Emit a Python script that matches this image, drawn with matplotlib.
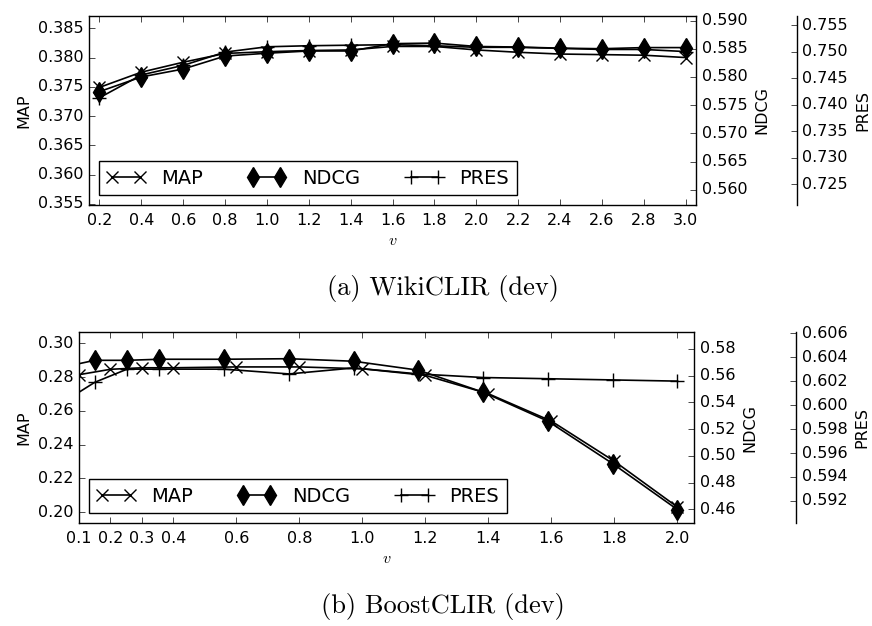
import matplotlib
matplotlib.use('Agg')
import matplotlib.pyplot as plt
from matplotlib.ticker import FormatStrFormatter

plt.style.use('classic')
plt.rcParams.update({
    'figure.facecolor': 'white',
    'savefig.facecolor': 'white',
    'font.family': ['DejaVu Sans'],
    'mathtext.fontset': 'cm',
    'lines.linewidth': 1.2,
})

# ---------------- data ----------------
wiki_v = [0.2, 0.4, 0.6, 0.8, 1.0, 1.2, 1.4, 1.6, 1.8, 2.0, 2.2, 2.4, 2.6, 2.8, 3.0]
wiki_map = [0.3749, 0.3775, 0.3792, 0.3807, 0.3810, 0.3812, 0.3813, 0.3819, 0.3819,
            0.3813, 0.3809, 0.3806, 0.3805, 0.3804, 0.3800]
wiki_ndcg = [0.5774, 0.5800, 0.5814, 0.5837, 0.5842, 0.5846, 0.5846, 0.5859, 0.5860,
             0.5854, 0.5853, 0.5851, 0.5850, 0.5852, 0.5852]
wiki_pres = [0.7413, 0.7456, 0.7474, 0.7499, 0.7509, 0.7511, 0.7512, 0.7513, 0.7511,
             0.7508, 0.7508, 0.7506, 0.7504, 0.7504, 0.7500]

boost_v = [0.1, 0.2, 0.3, 0.4, 0.6, 0.8, 1.0, 1.2, 1.4, 1.6, 1.8, 2.0]
boost_map = [0.2814, 0.2846, 0.2855, 0.2855, 0.2860, 0.2860, 0.2849, 0.2810,
             0.2701, 0.2539, 0.2301, 0.2030]
boost_ndcg = [0.5663, 0.5715, 0.5715, 0.5723, 0.5723, 0.5727, 0.5708, 0.5641,
              0.5476, 0.5259, 0.4941, 0.4597]
boost_pres = [0.6002, 0.6019, 0.6030, 0.6030, 0.6030, 0.6026, 0.6031, 0.6026,
              0.6023, 0.6022, 0.6021, 0.6020]

wiki_xticks = wiki_v
boost_xticks = boost_v
wiki_map_ticks = [0.355, 0.360, 0.365, 0.370, 0.375, 0.380, 0.385]
wiki_ndcg_ticks = [0.560, 0.565, 0.570, 0.575, 0.580, 0.585, 0.590]
wiki_pres_ticks = [0.725, 0.730, 0.735, 0.740, 0.745, 0.750, 0.755]
boost_map_ticks = [0.20, 0.22, 0.24, 0.26, 0.28, 0.30]
boost_ndcg_ticks = [0.46, 0.48, 0.50, 0.52, 0.54, 0.56, 0.58]
boost_pres_ticks = [0.592, 0.594, 0.596, 0.598, 0.600, 0.602, 0.604, 0.606]

series_names = ['MAP', 'NDCG', 'PRES']
captions = ['(a) WikiCLIR (dev)', '(b) BoostCLIR (dev)']

W, H = 872, 626
fig = plt.figure(figsize=(W / 100, H / 100), dpi=100)

FS = 11.5


def rect_px(l, t, r, b):
    return [l / W, 1 - b / H, (r - l) / W, (b - t) / H]


def panel(rect, v, m, n, p, xticks, xlim_host, xlim_twin,
          mlim, nlim, plim, mt, nt, pt, mfmt, pfmt, caption, cap_y, offset):
    ax = fig.add_axes(rect)
    ax2 = fig.add_axes(rect)
    ax3 = fig.add_axes(rect)
    for a in (ax2, ax3):
        a.patch.set_visible(False)
        for s in a.spines.values():
            s.set_visible(False)
        a.xaxis.set_visible(False)
        a.yaxis.set_ticks_position('right')
        a.yaxis.set_label_position('right')
        a.set_xlim(*xlim_twin)
    ax3.spines['right'].set_visible(True)
    ax3.spines['right'].set_position(('axes', offset))

    l1, = ax.plot(v, m, color='black', marker='x', ms=9, mew=1.0, label=series_names[0])
    l2, = ax2.plot(v, n, color='black', marker='d', ms=10.5, mew=1.0, label=series_names[1])
    l3, = ax3.plot(v, p, color='black', marker='+', ms=10, mew=1.0, label=series_names[2])

    ax.set_xlim(*xlim_host)
    ax.set_xticks(xticks)
    ax.xaxis.set_major_formatter(FormatStrFormatter('%.1f'))
    ax.set_ylim(*mlim)
    ax.set_yticks(mt)
    ax.yaxis.set_major_formatter(FormatStrFormatter(mfmt))
    ax.tick_params(axis='y', right=False, direction='in', labelsize=FS)
    ax.tick_params(axis='x', top=True, bottom=True, direction='in', labelsize=FS, pad=6)
    ax.set_ylabel('MAP', fontsize=FS)
    ax.set_xlabel('$v$', fontsize=FS, labelpad=3.5)

    ax2.set_ylim(*nlim)
    ax2.set_yticks(nt)
    ax2.yaxis.set_major_formatter(FormatStrFormatter(mfmt if mfmt == '%.3f' else '%.2f'))
    ax2.tick_params(axis='y', left=False, right=True, labelleft=False, labelright=True,
                    direction='in', labelsize=FS)
    ax2.set_ylabel('NDCG', fontsize=FS)

    ax3.set_ylim(*plim)
    ax3.set_yticks(pt)
    ax3.yaxis.set_major_formatter(FormatStrFormatter(pfmt))
    ax3.tick_params(axis='y', left=False, right=True, labelleft=False, labelright=True,
                    direction='in', labelsize=FS)
    ax3.set_ylabel('PRES', fontsize=FS)

    ax3.legend(handles=[l1, l2, l3], loc='lower left', ncol=3, fontsize=14,
               numpoints=2, fancybox=False, borderaxespad=0.5, columnspacing=2.3)

    fig.text(443 / W, 1 - cap_y / H, caption, family='cmr10', fontsize=19,
             ha='center', va='center')


panel(rect_px(89, 16, 696, 205), wiki_v, wiki_map, wiki_ndcg, wiki_pres, wiki_xticks,
      (0.15, 3.05), (0.15, 3.05),
      (0.3548, 0.3871), (0.5573, 0.5908), (0.7211, 0.7567),
      wiki_map_ticks, wiki_ndcg_ticks, wiki_pres_ticks, '%.3f', '%.3f',
      captions[0], 289, 1.166)

panel(rect_px(79, 332, 694, 523), boost_v, boost_map, boost_ndcg, boost_pres, boost_xticks,
      (0.1, 2.053), (0.1514, 2.051),
      (0.1935, 0.3067), (0.4497, 0.5927), (0.59016, 0.6061),
      boost_map_ticks, boost_ndcg_ticks, boost_pres_ticks, '%.2f', '%.3f',
      captions[1], 606, 1.166)

fig.savefig('out.png', dpi=100)
